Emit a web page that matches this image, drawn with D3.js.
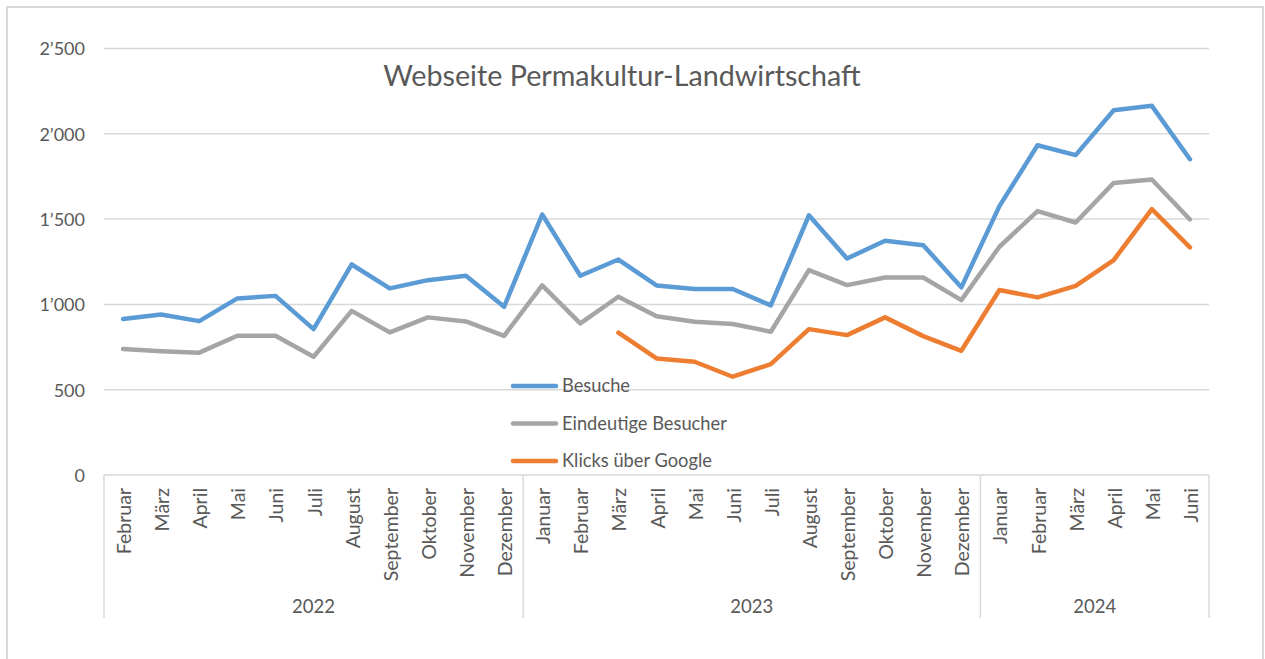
<!DOCTYPE html>
<html>
<head>
<meta charset="utf-8">
<script src="https://cdn.jsdelivr.net/npm/d3@7"></script>
<style>
  html, body { margin: 0; padding: 0; background: #fff; }
  svg { display: block; }
  text { font-family: Lato, "Open Sans", sans-serif; fill: #595959; }
</style>
</head>
<body>
<svg id="chart" width="1265" height="659"></svg>
<script>
const years = ["2022", "2023", "2024"];
const months2022 = ["Februar","März","April","Mai","Juni","Juli","August","September","Oktober","November","Dezember"];
const months2023 = ["Januar","Februar","März","April","Mai","Juni","Juli","August","September","Oktober","November","Dezember"];
const months2024 = ["Januar","Februar","März","April","Mai","Juni"];

const besuche = [914, 941, 902, 1035, 1050, 855, 1234, 1094, 1142, 1168, 986,
                 1527, 1168, 1263, 1111, 1090, 1090, 994, 1522, 1269, 1373, 1347, 1100,
                 1576, 1933, 1875, 2138, 2164, 1851];
const eindeutige = [738, 726, 717, 816, 816, 693, 962, 836, 924, 900, 816,
                    1111, 889, 1045, 931, 898, 885, 840, 1201, 1113, 1158, 1158, 1025,
                    1338, 1547, 1480, 1712, 1732, 1498];
const klicks = [null, null, null, null, null, null, null, null, null, null, null,
                null, null, 834, 683, 664, 576, 650, 855, 820, 924, 814, 728,
                1084, 1041, 1109, 1260, 1558, 1334];
const yTicks = [0, 500, 1000, 1500, 2000, 2500];

const seriesNames = ["Besuche", "Eindeutige Besucher", "Klicks über Google"];
const seriesColors = ["#5B9BD5", "#A5A5A5", "#ED7D31"];

const groups = [
  { year: years[0], months: months2022 },
  { year: years[1], months: months2023 },
  { year: years[2], months: months2024 }
];
const cats = [];
groups.forEach(g => g.months.forEach(m => cats.push(g.year + "-" + m)));

const svg = d3.select("#chart");

// outer border
svg.append("rect").attr("x", 7).attr("y", 7).attr("width", 1256).attr("height", 670)
  .attr("fill", "none").attr("stroke", "#d9d9d9").attr("stroke-width", 2);

const plotLeft = 104, plotRight = 1209, plotTop = 48.5, plotBottom = 475;
const x = d3.scaleBand().domain(cats).range([plotLeft, plotRight]).padding(0);
const y = d3.scaleLinear().domain([0, 2500]).range([plotBottom, plotTop]);

// gridlines
svg.append("g").selectAll("line").data(yTicks.filter(d => d > 0)).join("line")
  .attr("x1", plotLeft).attr("x2", plotRight)
  .attr("y1", d => y(d)).attr("y2", d => y(d))
  .attr("stroke", "#d9d9d9").attr("stroke-width", 1.5);

// y axis labels
const fmt = v => {
  const s = String(v);
  return s.length > 3 ? s.slice(0, s.length - 3) + "\u2019" + s.slice(-3) : s;
};
const yAxis = d3.axisLeft(y).tickValues(yTicks).tickFormat(fmt).tickSize(0).tickPadding(0);
const yg = svg.append("g").attr("transform", `translate(85,0)`).call(yAxis);
yg.select(".domain").remove();
yg.selectAll("text").attr("font-size", 18).attr("font-family", "Lato, sans-serif").attr("fill", "#595959").attr("dy", "0.35em");

// x axis line
svg.append("line").attr("x1", plotLeft).attr("x2", plotRight).attr("y1", plotBottom).attr("y2", plotBottom)
  .attr("stroke", "#d9d9d9").attr("stroke-width", 1.5);

// group separators
const boundaries = [];
let idx = 0;
groups.forEach((g, i) => {
  const first = cats[idx];
  const last = cats[idx + g.months.length - 1];
  boundaries.push({ year: g.year, x0: x(first), x1: x(last) + x.bandwidth() });
  idx += g.months.length;
});
const sepX = [plotLeft].concat(boundaries.map(b => b.x1));
svg.append("g").selectAll("line").data(sepX).join("line")
  .attr("x1", d => d).attr("x2", d => d).attr("y1", plotBottom).attr("y2", 618)
  .attr("stroke", "#d9d9d9").attr("stroke-width", 1.5);

// month labels
svg.append("g").selectAll("text").data(cats).join("text")
  .attr("transform", d => `translate(${x(d) + x.bandwidth() / 2 + 8},488) rotate(-90)`)
  .attr("text-anchor", "end")
  .attr("font-size", 19.5)
  .text(d => d.split("-")[1]);

// year labels
svg.append("g").selectAll("text").data(boundaries).join("text")
  .attr("x", d => (d.x0 + d.x1) / 2).attr("y", 613)
  .attr("text-anchor", "middle").attr("font-size", 18.5)
  .text(d => d.year);

// lines
const allSeries = [besuche, eindeutige, klicks];
const line = d3.line()
  .defined(d => d.v !== null)
  .x(d => x(d.c) + x.bandwidth() / 2)
  .y(d => y(d.v));
allSeries.forEach((vals, i) => {
  svg.append("path")
    .datum(vals.map((v, j) => ({ c: cats[j], v })))
    .attr("d", line)
    .attr("fill", "none")
    .attr("stroke", seriesColors[i])
    .attr("stroke-width", 4.5)
    .attr("stroke-linejoin", "round")
    .attr("stroke-linecap", "round");
});

// legend
const lg = svg.append("g");
seriesNames.forEach((n, i) => {
  const ly = 386 + i * 37.5;
  lg.append("line").attr("x1", 513).attr("x2", 556).attr("y1", ly).attr("y2", ly)
    .attr("stroke", seriesColors[i]).attr("stroke-width", 4.5).attr("stroke-linecap", "round");
  lg.append("text").attr("x", 562).attr("y", ly).attr("dy", "0.35em")
    .attr("font-size", 18.3).text(n);
});

// title
svg.append("text").attr("x", 622).attr("y", 86)
  .attr("text-anchor", "middle").attr("font-size", 28.7)
  .text("Webseite Permakultur-Landwirtschaft");
</script>
</body>
</html>
